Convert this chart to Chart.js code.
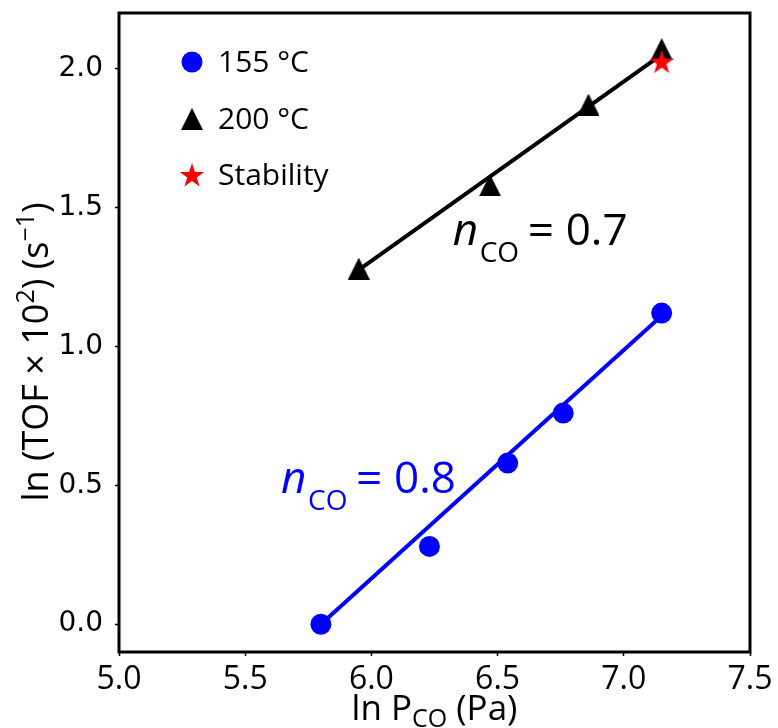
<!DOCTYPE html>
<html>
<head>
<meta charset="utf-8">
<script src="https://cdn.jsdelivr.net/npm/chart.js@4"></script>
<style>
  html, body { margin: 0; padding: 0; background: #fff; }
  canvas { display: block; }
</style>
</head>
<body>
<canvas id="chart" width="778" height="728"></canvas>
<script>
// 155 °C points and fitted line
const x155 = [5.80, 6.23, 6.54, 6.76, 7.15];
const y155 = [0.00, 0.28, 0.58, 0.76, 1.12];
const fit155X = [5.80, 7.15];
const fit155Y = [0.00, 1.11];

// 200 °C points and fitted line
const x200 = [5.95, 6.47, 6.86, 7.15];
const y200 = [1.28, 1.58, 1.87, 2.07];
const fit200X = [5.95, 7.15];
const fit200Y = [1.275, 2.05];

// stability check point
const xStab = [7.15];
const yStab = [2.025];

const xTicks = [5.0, 5.5, 6.0, 6.5, 7.0, 7.5];
const yTicks = [0.0, 0.5, 1.0, 1.5, 2.0];

const legendLabels = ['155 °C', '200 °C', 'Stability'];
const slopeLabels = ['0.8', '0.7'];

const BLUE = '#0000ff';
const RED = '#ff0000';
const TEXT_FONT = '"Open Sans", "Liberation Sans", sans-serif';

function toPoints(xs, ys) {
    return xs.map((x, i) => ({ x, y: ys[i] }));
}

// matplotlib-like filled markers as small canvases
function makeTriangle(size, color) {
    const c = document.createElement('canvas');
    c.width = size; c.height = size;
    const g = c.getContext('2d');
    g.fillStyle = color;
    g.beginPath();
    g.moveTo(size / 2, 0);
    g.lineTo(size, size);
    g.lineTo(0, size);
    g.closePath();
    g.fill();
    return c;
}

function starPath(g, cx, cy, outer, inner) {
    g.beginPath();
    for (let i = 0; i < 10; i++) {
        const r = i % 2 === 0 ? outer : inner;
        const a = -Math.PI / 2 + i * Math.PI / 5;
        const px = cx + r * Math.cos(a);
        const py = cy + r * Math.sin(a);
        if (i === 0) g.moveTo(px, py); else g.lineTo(px, py);
    }
    g.closePath();
}

function makeStar(size, color) {
    const c = document.createElement('canvas');
    c.width = size; c.height = size;
    const g = c.getContext('2d');
    g.fillStyle = color;
    starPath(g, size / 2, size / 2 + 1, size / 2, size / 2 * 0.382);
    g.fill();
    return c;
}

const triImg = makeTriangle(22, '#000');
const starImg = makeStar(26, RED);

// draws text pieces one after the other from (x, baseline)
function drawRich(ctx, x, y, parts) {
    let cx = x;
    parts.forEach(p => {
        ctx.font = p.font;
        ctx.fillText(p.text, cx, y + (p.dy || 0));
        cx += ctx.measureText(p.text).width;
    });
    return cx - x;
}

function richWidth(ctx, parts) {
    let w = 0;
    parts.forEach(p => { ctx.font = p.font; w += ctx.measureText(p.text).width; });
    return w;
}

const decorPlugin = {
    id: 'decor',
    afterDraw(chart) {
        const { ctx, chartArea: a, scales } = chart;
        const xs = scales.x, ys = scales.y;
        ctx.save();

        // box around plot
        ctx.strokeStyle = '#000';
        ctx.lineWidth = 3;
        ctx.strokeRect(a.left, a.top, a.right - a.left, a.bottom - a.top);

        ctx.fillStyle = '#000';
        ctx.textBaseline = 'alphabetic';
        ctx.textAlign = 'left';

        // x title
        const xTitle = [
            { text: 'ln P', font: '35px ' + TEXT_FONT },
            { text: 'CO', font: '25px ' + TEXT_FONT, dy: 7 },
            { text: ' (Pa)', font: '35px ' + TEXT_FONT }
        ];
        const xw = richWidth(ctx, xTitle);
        drawRich(ctx, (a.left + a.right) / 2 - xw / 2, 720, xTitle);

        // y title
        const big = '36px ' + TEXT_FONT, small = '25px ' + TEXT_FONT;
        const yTitle = [
            { text: 'ln (TOF × 10', font: big },
            { text: '2', font: small, dy: -14 },
            { text: ') (s', font: big },
            { text: '−1', font: small, dy: -14 },
            { text: ')', font: big }
        ];
        const yw = richWidth(ctx, yTitle);
        ctx.save();
        ctx.translate(48, 352);
        ctx.rotate(-Math.PI / 2);
        drawRich(ctx, -yw / 2, 0, yTitle);
        ctx.restore();

        // legend
        const rows = [62, 119, 175];
        const mx = a.left + 73;
        ctx.fillStyle = BLUE;
        ctx.beginPath();
        ctx.arc(mx, rows[0], 10.5, 0, Math.PI * 2);
        ctx.fill();
        ctx.drawImage(triImg, mx - 11, rows[1] - 11);
        ctx.drawImage(starImg, mx - 13, rows[2] - 13);
        ctx.fillStyle = '#000';
        ctx.font = '30px ' + TEXT_FONT;
        ctx.textBaseline = 'middle';
        legendLabels.forEach((t, i) => ctx.fillText(t, mx + 26, rows[i] + 1));

        // slope labels
        ctx.textBaseline = 'alphabetic';
        const notes = [
            { x: 5.65, y: 0.471, color: BLUE, val: slopeLabels[0] },
            { x: 6.33, y: 1.364, color: '#000', val: slopeLabels[1] }
        ];
        notes.forEach(n => {
            const px = xs.getPixelForValue(n.x);
            const py = ys.getPixelForValue(n.y);
            ctx.fillStyle = n.color;
            ctx.font = 'italic 44px ' + TEXT_FONT;
            ctx.fillText('n', px - 2, py);
            ctx.font = '28px ' + TEXT_FONT;
            ctx.fillText('CO', px + 25, py + 17);
            ctx.font = '46px ' + TEXT_FONT;
            ctx.fillText('=', px + 73, py + 1);
            ctx.font = '44px ' + TEXT_FONT;
            ctx.fillText(n.val, px + 111, py);
        });

        ctx.restore();
    }
};

new Chart(document.getElementById('chart').getContext('2d'), {
    type: 'scatter',
    data: {
        datasets: [
            {
                label: 'Stability',
                data: toPoints(xStab, yStab),
                pointStyle: starImg,
                order: 0
            },
            {
                label: '200 °C',
                data: toPoints(x200, y200),
                pointStyle: triImg,
                order: 1
            },
            {
                label: 'fit 200',
                data: toPoints(fit200X, fit200Y),
                showLine: true,
                borderColor: '#000',
                borderWidth: 4,
                pointRadius: 0,
                order: 2
            },
            {
                label: '155 °C',
                data: toPoints(x155, y155),
                pointStyle: 'circle',
                pointRadius: 10.5,
                backgroundColor: BLUE,
                borderColor: BLUE,
                borderWidth: 0,
                order: 3
            },
            {
                label: 'fit 155',
                data: toPoints(fit155X, fit155Y),
                showLine: true,
                borderColor: BLUE,
                borderWidth: 4,
                pointRadius: 0,
                order: 4
            }
        ]
    },
    options: {
        responsive: false,
        animation: false,
        devicePixelRatio: 1,
        layout: { padding: { top: 13, right: 28, left: 0, bottom: 0 } },
        plugins: {
            legend: { display: false },
            tooltip: { enabled: false }
        },
        scales: {
            x: {
                type: 'linear',
                min: 5,
                max: 7.5,
                afterBuildTicks: s => { s.ticks = xTicks.map(v => ({ value: v })); },
                afterFit: s => { s.height = 76; s.paddingLeft = 0; s.paddingRight = 0; },
                ticks: {
                    color: '#000',
                    font: { family: TEXT_FONT, size: 32 },
                    padding: 5,
                    maxRotation: 0,
                    autoSkip: false,
                    callback: v => v.toFixed(1)
                },
                grid: { drawOnChartArea: false, tickLength: 4, tickWidth: 1.5, tickColor: '#000' },
                border: { display: false }
            },
            y: {
                type: 'linear',
                min: -0.1,
                max: 2.2,
                afterBuildTicks: s => { s.ticks = yTicks.map(v => ({ value: v })); },
                afterFit: s => { s.width = 119; s.paddingTop = 0; s.paddingBottom = 0; },
                ticks: {
                    color: '#000',
                    font: { family: '"DejaVu Sans", sans-serif', size: 28 },
                    padding: 12,
                    autoSkip: false,
                    callback: v => v.toFixed(1)
                },
                grid: { drawOnChartArea: false, tickLength: 4, tickWidth: 1.5, tickColor: '#000' },
                border: { display: false }
            }
        }
    },
    plugins: [decorPlugin]
});
</script>
</body>
</html>
